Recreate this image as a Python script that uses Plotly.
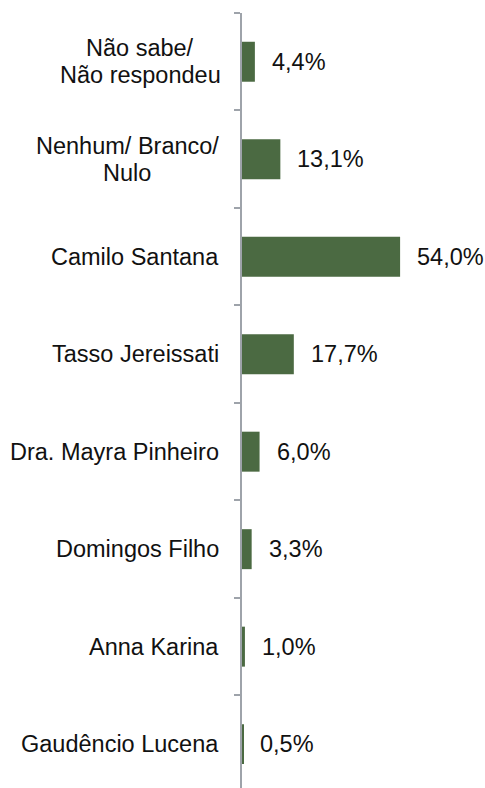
import plotly.graph_objects as go

categories = ["Gaudêncio Lucena", "Anna Karina", "Domingos Filho", "Dra. Mayra Pinheiro",
              "Tasso Jereissati", "Camilo Santana", "Nenhum/ Branco/<br>Nulo",
              "Não sabe/<br>Não respondeu"]
values = [0.5, 1.0, 3.3, 6.0, 17.7, 54.0, 13.1, 4.4]
value_labels = [f"{v:.1f}".replace(".", ",") + "%" for v in values]

FONT = "Liberation Sans, Arial, sans-serif"
AXIS_COLOR = "#9ea3aa"
BAR_COLOR = "#4b6a42"
LINE_H = 27
# horizontal centre offset (from the axis) of the centred lines of multi-line labels
MULTI_CENTER = {"Nenhum/ Branco/<br>Nulo": -115, "Não sabe/<br>Não respondeu": -102}

fig = go.Figure()
fig.add_trace(go.Bar(
    y=categories, x=values, orientation="h",
    marker=dict(color=BAR_COLOR, line=dict(width=0)),
    width=0.41, hoverinfo="skip",
))

annotations = []
for cat, v, lab in zip(categories, values, value_labels):
    annotations.append(dict(x=v, y=cat, xref="x", yref="y", text=lab, showarrow=False,
                            xanchor="left", yanchor="middle", xshift=15,
                            font=dict(family=FONT, size=23.5, color="#111111")))
    lines = cat.split("<br>")
    n = len(lines)
    for i, line in enumerate(lines):
        ann = dict(x=0, y=cat, xref="paper", yref="y", text=line, showarrow=False,
                   yanchor="middle", yshift=((n - 1) / 2 - i) * LINE_H,
                   font=dict(family=FONT, size=23.5, color="#111111"))
        if n > 1:
            ann.update(xanchor="center", xshift=MULTI_CENTER[cat])
        else:
            ann.update(xanchor="right", xshift=-21)
        annotations.append(ann)

fig.update_layout(
    width=485, height=788,
    margin=dict(l=242, r=0, t=13, b=0),
    paper_bgcolor="white", plot_bgcolor="white",
    showlegend=False,
    annotations=annotations,
    xaxis=dict(range=[0, 83], visible=False, fixedrange=True, automargin=False),
    yaxis=dict(type="category", categoryorder="array", categoryarray=categories,
               range=[-0.45, 7.5], showticklabels=False, automargin=False,
               tickson="boundaries", ticks="outside", ticklen=6, tickwidth=2,
               tickcolor=AXIS_COLOR, showline=True, linecolor=AXIS_COLOR, linewidth=2,
               showgrid=False, zeroline=False, fixedrange=True),
)

fig.write_html("out.html", config={"displayModeBar": False},
               post_script="document.body.style.margin='0';document.body.style.overflow='hidden';")
